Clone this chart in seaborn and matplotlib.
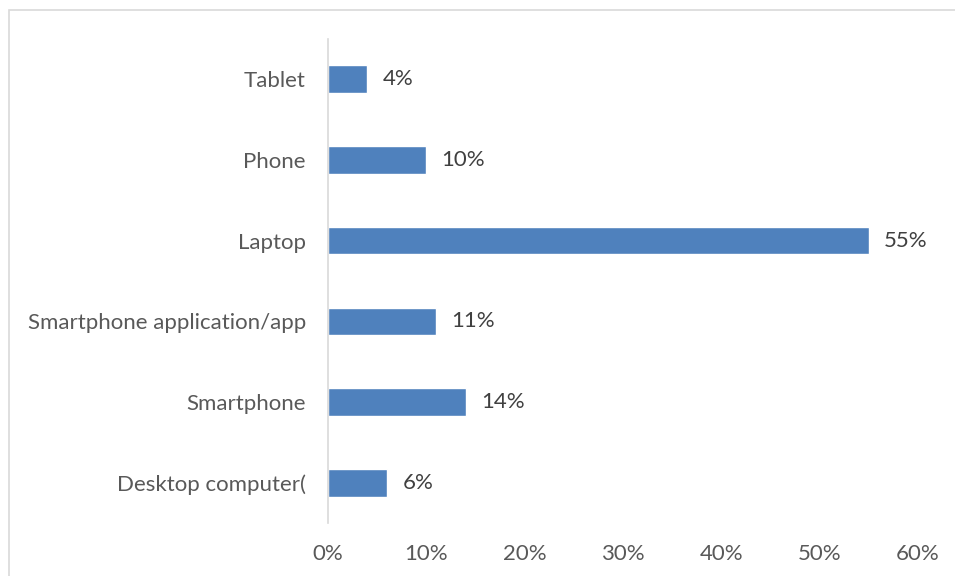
import matplotlib
matplotlib.use("Agg")
import matplotlib.pyplot as plt
import seaborn as sns
import pandas as pd
from matplotlib.patches import Rectangle

devices = ["Tablet", "Phone", "Laptop", "Smartphone application/app",
           "Smartphone", "Desktop computer("]
shares = [4, 10, 55, 11, 14, 6]
x_ticks = [0, 10, 20, 30, 40, 50, 60]
x_tick_labels = ["0%", "10%", "20%", "30%", "40%", "50%", "60%"]

df = pd.DataFrame({"device": devices, "share": shares})

sns.set_style("white")
plt.rcParams["font.family"] = ["Lato", "DejaVu Sans"]

fig = plt.figure(figsize=(9.55, 5.76), dpi=100)
ax = fig.add_axes([328 / 955, 1 - 523.4 / 576, 590 / 955, (523.4 - 38.6) / 576])

sns.barplot(data=df, x="share", y="device", orient="h", color="#4f81bd",
            width=0.34, saturation=1, ax=ax, order=devices)

ax.set_xlim(0, 60)
ax.set_xticks(x_ticks)
ax.set_xticklabels(x_tick_labels)
ax.set_xlabel("")
ax.set_ylabel("")
ax.tick_params(axis="x", length=0, pad=15, labelsize=16, colors="#595959")
ax.tick_params(axis="y", length=0, pad=16, labelsize=16, colors="#595959")

for s in ["top", "right", "bottom"]:
    ax.spines[s].set_visible(False)
ax.spines["left"].set_color("#d9d9d9")
ax.spines["left"].set_linewidth(1.2)

for cont in ax.containers:
    ax.bar_label(cont, labels=[f"{v}%" for v in shares], padding=11,
                 fontsize=16, color="#404040")

# outer chart frame
fig.patches.append(Rectangle((8.5 / 955, -0.1), 1.2, 1 - 9.5 / 576 + 0.1,
                             transform=fig.transFigure, fill=False,
                             edgecolor="#d9d9d9", linewidth=1.2))

fig.savefig("out.png", dpi=100)
